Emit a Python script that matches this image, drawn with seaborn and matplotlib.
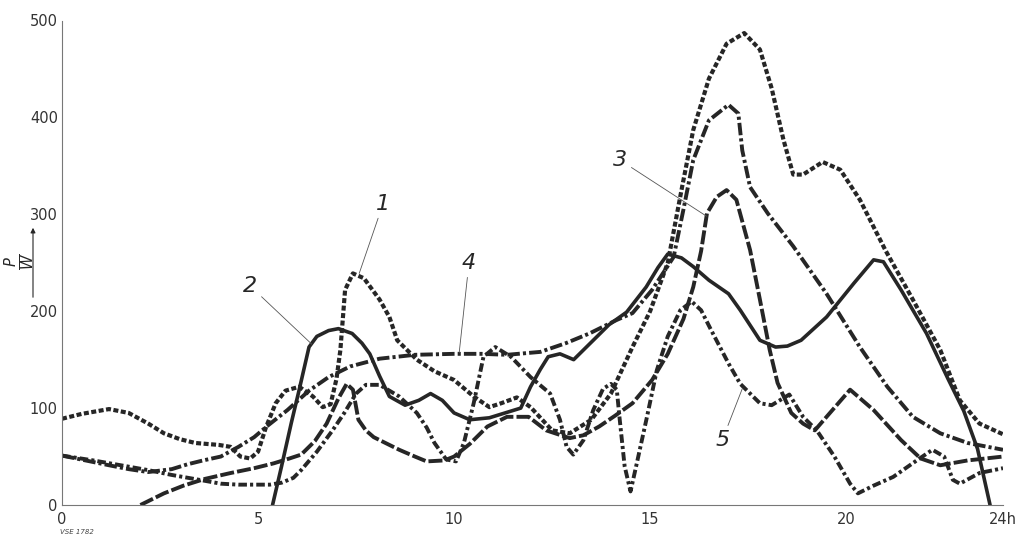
import matplotlib
matplotlib.use("Agg")
import matplotlib.pyplot as plt
import seaborn as sns
import pandas as pd

# Tageslastgang, 5 Kurven (P in W ueber Tageszeit in h)
h1 = [0, 0.5, 1.2, 1.7, 2.2, 2.6, 3.0, 3.4, 4.0, 4.3, 4.55, 4.8, 5.0, 5.2, 5.45, 5.7, 6.05, 6.4,
      6.65, 6.85, 7.0, 7.1, 7.22, 7.42, 7.7, 8.1, 8.35, 8.55, 8.8, 9.05, 9.5, 10.0, 10.5, 10.9,
      11.2, 11.6, 11.95, 12.5, 12.95, 13.5, 14.0, 14.55, 15.0, 15.45, 15.8, 16.1, 16.5, 16.95,
      17.4, 17.8, 18.1, 18.4, 18.65, 18.9, 19.4, 19.85, 20.35, 21.0, 21.7, 22.4, 22.9, 23.4, 24.0]
p1 = [89, 94, 99, 95, 84, 74, 68, 64, 62, 60, 50, 48, 55, 80, 105, 118, 122, 112,
      101, 104, 130, 160, 222, 239, 234, 212, 194, 170, 160, 150, 138, 129, 112, 101,
      105, 111, 101, 77, 74, 88, 115, 163, 200, 250, 325, 387, 440, 476,
      487, 470, 430, 377, 341, 341, 354, 346, 315, 263, 212, 160, 108, 84, 73]

h2 = [5.37, 5.6, 5.85, 6.05, 6.3, 6.5, 6.8, 7.05, 7.4, 7.65, 7.85, 8.1, 8.35, 8.75, 9.1, 9.4,
      9.7, 10.0, 10.4, 10.9, 11.3, 11.7, 11.95, 12.2, 12.4, 12.7, 13.05, 13.3, 13.55, 13.95,
      14.4, 14.9, 15.2, 15.45, 15.8, 16.1, 16.5, 17.0, 17.3, 17.8, 18.2, 18.5, 18.85, 19.5,
      20.2, 20.7, 20.95, 21.4, 22.05, 22.6, 23.0, 23.35, 23.67]
p2 = [0, 40, 85, 119, 163, 174, 180, 182, 177, 167, 156, 133, 112, 103, 108, 115,
      108, 95, 88, 90, 95, 100, 122, 140, 153, 156, 150, 160, 170, 186,
      199, 225, 245, 259, 255, 246, 232, 218, 201, 170, 163, 164, 170, 194,
      229, 253, 251, 222, 177, 130, 97, 58, 0]

h3 = [2.0, 2.6, 3.1, 3.65, 4.3, 4.9, 5.4, 5.8, 6.1, 6.45, 6.75, 7.05, 7.26, 7.42, 7.56, 7.75,
      7.95, 8.3, 8.6, 9.0, 9.3, 9.75, 10.0, 10.4, 10.85, 11.35, 11.9, 12.35, 12.95, 13.3, 13.7,
      14.1, 14.55, 15.05, 15.45, 15.85, 16.1, 16.3, 16.45, 16.7, 16.95, 17.2, 17.55, 17.8,
      18.05, 18.25, 18.6, 18.9, 19.2, 19.65, 20.1, 20.7, 21.4, 21.9, 22.4, 23.1, 24.0]
p3 = [0, 12, 20, 27, 33, 38, 43, 48, 52, 66, 84, 110, 125, 119, 88, 77,
      70, 63, 57, 50, 45, 46, 50, 63, 81, 91, 91, 77, 69, 72, 81,
      92, 105, 129, 156, 192, 225, 262, 301, 318, 325, 315, 263, 212,
      160, 126, 95, 84, 77, 98, 119, 98, 67, 48, 41, 46, 50]

h4 = [0, 0.6, 1.2, 1.7, 2.2, 2.8, 3.2, 3.6, 4.05, 4.5, 4.9, 5.25, 5.75, 6.3, 6.8, 7.35, 8.1,
      9.0, 10.0, 10.7, 11.35, 12.2, 12.85, 13.45, 14.15, 14.55, 15.05, 15.6, 15.85, 16.1, 16.5,
      17.0, 17.25, 17.35, 17.55, 18.0, 18.65, 19.5, 20.35, 21.05, 21.7, 22.4, 23.1, 24.0]
p4 = [51, 46, 41, 37, 34, 37, 42, 46, 50, 60, 70, 82, 98, 118, 132, 143, 151,
      155, 156, 156, 155, 158, 167, 177, 191, 198, 222, 256, 305, 356, 397,
      413, 404, 366, 328, 301, 267, 218, 163, 122, 91, 74, 64, 57]

h5 = [0, 0.8, 1.5, 2.2, 2.8, 3.5, 4.05, 4.5, 4.9, 5.3, 5.6, 5.9, 6.1, 6.5, 6.9, 7.2, 7.5, 7.75,
      8.1, 8.6, 9.05, 9.3, 9.5, 9.8, 10.05, 10.25, 10.5, 10.75, 11.05, 11.45, 11.95, 12.45,
      12.7, 12.87, 13.04, 13.3, 13.55, 13.8, 14.0, 14.15, 14.22, 14.35, 14.5, 14.66, 14.92,
      15.17, 15.45, 15.77, 16.06, 16.3, 16.55, 17.0, 17.3, 17.8, 18.1, 18.55, 18.9, 19.25,
      19.7, 20.1, 20.3, 20.7, 21.2, 21.8, 22.2, 22.5, 22.72, 22.9, 23.4, 24.0]
p5 = [51, 46, 41, 36, 31, 26, 22, 21, 21, 21, 23, 28, 36, 55, 77, 95, 115, 124,
      124, 112, 95, 80, 64, 47, 45, 64, 105, 153, 163, 153, 132, 115,
      88, 60, 52, 67, 98, 120, 125, 119, 90, 40, 14, 43, 91,
      139, 174, 201, 210, 201, 181, 146, 125, 105, 103, 114, 91, 77,
      50, 22, 12, 20, 29, 46, 57, 50, 26, 22, 33, 38]

x_ticks = [0, 5, 10, 15, 20, 24]
x_labels = ["0", "5", "10", "15", "20", "24h"]
y_ticks = [0, 100, 200, 300, 400, 500]

INK = "#262626"

sns.set_style("white")
plt.rcParams["font.family"] = ["DejaVu Sans"]

fig = plt.figure(figsize=(10.16, 5.35), dpi=100)
ax = fig.add_axes([62 / 1016, 30 / 535, 941 / 1016, 484.5 / 535])

curves = [
    (h1, p1, (0, (1.2, 0.6)), 3.0),
    (h2, p2, "-", 2.6),
    (h3, p3, (0, (3.6, 0.8)), 2.8),
    (h4, p4, (0, (3.2, 0.8, 0.8, 0.8)), 2.8),
    (h5, p5, (0, (2.2, 0.8, 0.8, 0.8)), 2.8),
]
for hh, pp, ls, lw in curves:
    df = pd.DataFrame({"h": hh, "P": pp})
    sns.lineplot(data=df, x="h", y="P", ax=ax, color=INK, linewidth=lw,
                 linestyle=ls, estimator=None, sort=False, legend=False)
for ln in ax.lines:
    ln.set_solid_joinstyle("round")
    ln.set_dash_joinstyle("round")

ax.set_xlim(0, 24)
ax.set_ylim(0, 500)
ax.set_xticks(x_ticks)
ax.set_xticklabels(x_labels)
ax.set_yticks(y_ticks)
ax.set_xlabel("")
ax.set_ylabel("")
ax.tick_params(axis="both", labelsize=10.5, colors="#333333", width=0.6)
ax.tick_params(axis="x", length=2, direction="inout", pad=4)
ax.tick_params(axis="y", length=2, direction="inout", pad=2)
sns.despine(ax=ax)
for side in ("left", "bottom"):
    ax.spines[side].set_color("#777777")
    ax.spines[side].set_linewidth(0.8)

# Kurvennummern mit Hinweislinien
labels = [
    ("1", (7.58, 239), (8.19, 311)),
    ("2", (6.37, 166), (4.80, 226)),
    ("3", (16.44, 298), (14.23, 356)),
    ("4", (10.13, 157), (10.38, 250)),
    ("5", (17.35, 120), (16.84, 67)),
]
for txt, xy, xytext in labels:
    ax.annotate(txt, xy=xy, xytext=xytext, ha="center", va="center",
                fontsize=16, fontstyle="italic", color=INK,
                arrowprops=dict(arrowstyle="-", lw=0.6, color="#555555",
                                shrinkA=1, shrinkB=0))

# Achsenbeschriftung P/W mit Pfeil
fig.text(20 / 1016, 1 - 262 / 535, r"$\frac{P}{W}$", rotation=90,
         ha="center", va="center", fontsize=15, color=INK)
fig.patches.append(matplotlib.patches.FancyArrowPatch(
    (33 / 1016, 1 - 300 / 535), (33 / 1016, 1 - 225 / 535),
    transform=fig.transFigure, arrowstyle="-|>", mutation_scale=7,
    lw=0.8, color=INK))

fig.text(60 / 1016, 1 - 532 / 535, "VSE 1782", fontsize=5,
         fontstyle="italic", color="#444444", ha="left", va="center")

fig.savefig("out.png", dpi=100, facecolor="white")
